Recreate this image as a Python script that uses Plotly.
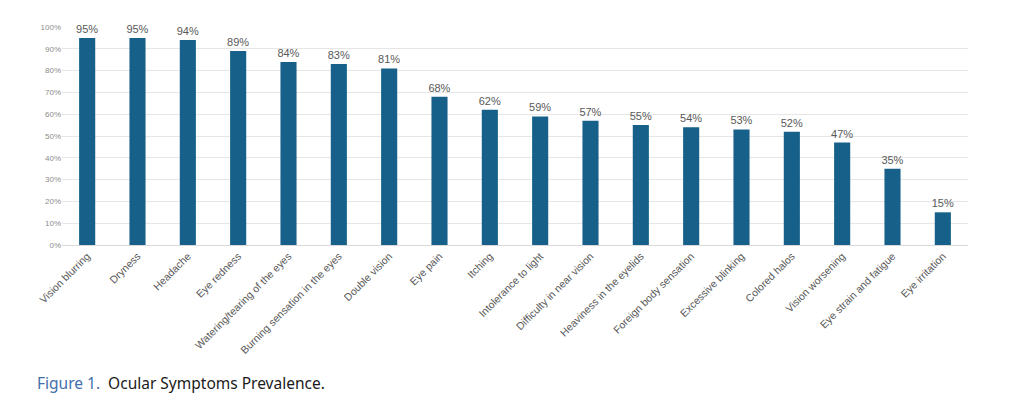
import plotly.graph_objects as go

categories = ["Vision blurring", "Dryness", "Headache", "Eye redness",
              "Watering/tearing of the eyes", "Burning sensation in the eyes",
              "Double vision", "Eye pain", "Itching", "Intolerance to light",
              "Difficulty in near vision", "Heaviness in the eyelids",
              "Foreign body sensation", "Excessive blinking", "Colored halos",
              "Vision worsening", "Eye strain and fatigue", "Eye irritation"]
values = [95, 95, 94, 89, 84, 83, 81, 68, 62, 59, 57, 55, 54, 53, 52, 47, 35, 15]
y_ticks = list(range(0, 101, 10))
y_tick_labels = [f"{v}%" for v in y_ticks]

fig = go.Figure()
fig.add_trace(go.Bar(
    x=categories, y=values,
    marker=dict(color="#17608a", line=dict(width=0)),
    width=0.32,
    text=[f"{v}%" for v in values],
    textposition="outside",
    constraintext="none",
    textfont=dict(family="Liberation Sans, Arial", size=11, color="#595959"),
    cliponaxis=False,
))

fig.update_layout(
    width=1024, height=407,
    margin=dict(l=62, r=56, t=27, b=162),
    paper_bgcolor="white", plot_bgcolor="white",
    showlegend=False,
    xaxis=dict(tickangle=-45, tickfont=dict(family="Liberation Sans, Arial", size=10.5, color="#595959"),
               showgrid=False, showline=True, linecolor="#d9d9d9", ticks="", automargin=False),
    yaxis=dict(range=[0, 100], tickvals=y_ticks, ticktext=y_tick_labels,
               tickfont=dict(family="Liberation Sans, Arial", size=8, color="#8c8c8c"),
               showgrid=True, gridcolor="#e6e6e6", gridwidth=1, zeroline=False,
               showline=False, ticks="", automargin=False),
    annotations=[dict(
        xref="paper", yref="paper", x=-27/906, y=-(383-245)/218,
        xanchor="left", yanchor="middle", showarrow=False,
        text="<span style='color:#4270aa'>Figure 1.</span>  Ocular Symptoms Prevalence.",
        font=dict(family="Noto Sans, Open Sans", size=15.5, color="#1a1a1a"),
    )],
)

fig.write_html("out.html")
